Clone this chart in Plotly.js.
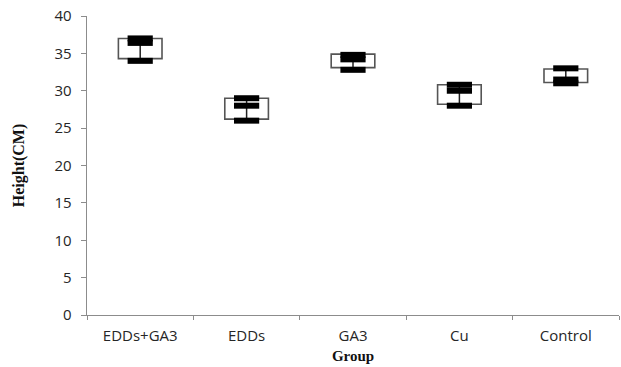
<!DOCTYPE html>
<html>
<head>
<meta charset="utf-8">
<script src="https://cdn.plot.ly/plotly-3.0.1.min.js"></script>
<style>html,body{margin:0;padding:0;background:#fff;}#chart{width:621px;height:367px;}</style>
</head>
<body>
<div id="chart"></div>
<script>
// Data
const groups = ["EDDs+GA3", "EDDs", "GA3", "Cu", "Control"];
const boxTop = [37.0, 29.0, 34.9, 30.8, 32.9];
const boxBottom = [34.3, 26.2, 33.1, 28.2, 31.1];
const highMark = [37.0, 29.0, 34.8, 30.8, 33.0];
const midMark = [36.4, 28.0, 34.2, 30.0, 31.5];
const lowMark = [34.0, 26.0, 32.8, 28.0, 31.0];
const yTicks = [0, 5, 10, 15, 20, 25, 30, 35, 40];

const boxHeights = boxTop.map((t, i) => t - boxBottom[i]);

// vertical connector lines low -> high
const lx = [], ly = [];
groups.forEach((g, i) => { lx.push(g, g, null); ly.push(lowMark[i], highMark[i], null); });

const markStyle = {symbol: "line-ew", size: 18, line: {color: "#000000", width: 6}};

const traces = [
  {
    type: "bar", x: groups, y: boxHeights, base: boxBottom, width: 0.41,
    marker: {color: "#ffffff", line: {color: "#555555", width: 1.6}},
    hoverinfo: "skip", showlegend: false
  },
  {
    type: "scatter", mode: "lines", x: lx, y: ly,
    line: {color: "#222222", width: 1.5}, hoverinfo: "skip", showlegend: false
  },
  {type: "scatter", mode: "markers", x: groups, y: highMark, marker: markStyle, showlegend: false},
  {type: "scatter", mode: "markers", x: groups, y: midMark, marker: markStyle, showlegend: false},
  {type: "scatter", mode: "markers", x: groups, y: lowMark, marker: markStyle, showlegend: false}
];

const layout = {
  width: 621, height: 367,
  margin: {l: 87, r: 2, t: 16, b: 52},
  paper_bgcolor: "#ffffff", plot_bgcolor: "#ffffff",
  font: {family: "Open Sans, sans-serif", color: "#262626", size: 15},
  bargap: 0,
  xaxis: {
    type: "category", range: [-0.5, 4.5],
    showline: true, linecolor: "#8c8c8c", linewidth: 1.3,
    ticks: "outside", tickson: "boundaries", ticklen: 4, tickcolor: "#8c8c8c",
    ticklabelstandoff: 7,
    showgrid: false, zeroline: false,
    tickfont: {family: "Open Sans, sans-serif", size: 15, color: "#262626"},
    title: {text: "<b>Group</b>", font: {family: "Liberation Serif, serif", size: 15, color: "#111"}, standoff: 6}
  },
  yaxis: {
    range: [0, 40], tickvals: yTicks, ticktext: yTicks.map(String),
    showline: true, linecolor: "#8c8c8c", linewidth: 1.3,
    ticks: "outside", ticklen: 5, tickcolor: "#8c8c8c",
    ticklabelstandoff: 6,
    showgrid: false, zeroline: false,
    tickfont: {family: "Open Sans, sans-serif", size: 15, color: "#262626"},
    title: {text: "<b>Height(CM)</b>", font: {family: "Liberation Serif, serif", size: 16, color: "#111"}, standoff: 26}
  }
};

Plotly.newPlot("chart", traces, layout, {displayModeBar: false, staticPlot: true});
</script>
</body>
</html>
